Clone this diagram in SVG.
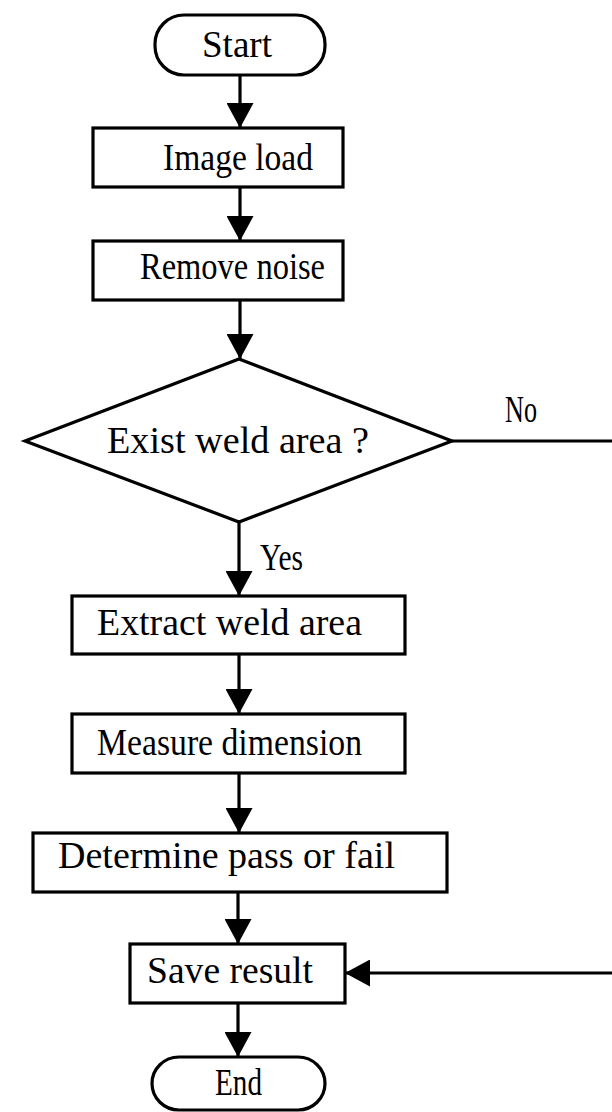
<svg xmlns="http://www.w3.org/2000/svg" width="612" height="1112" viewBox="0 0 612 1112">
<defs>
<style>
.shape{fill:#fff;stroke:#000;stroke-width:3.2}
.t{font-family:"Liberation Serif","DejaVu Serif",serif;font-size:37px;fill:#000;text-anchor:start}
.c{fill:none;stroke:#000;stroke-width:3.2}
</style>
<marker id="ah" viewBox="0 0 25 27" refX="25" refY="13.5" markerWidth="25" markerHeight="27" markerUnits="userSpaceOnUse" orient="auto">
<path d="M0,0 L25,13.5 L0,27 Z" fill="#000"/>
</marker>
</defs>
<rect width="612" height="1112" fill="#fff"/>
<g id="connectors">
<line class="c" x1="240" y1="75" x2="240" y2="128" marker-end="url(#ah)"/>
<line class="c" x1="240" y1="187" x2="240" y2="241" marker-end="url(#ah)"/>
<line class="c" x1="240" y1="300" x2="240" y2="359" marker-end="url(#ah)"/>
<line class="c" x1="239" y1="522" x2="239" y2="596" marker-end="url(#ah)"/>
<line class="c" x1="239" y1="654" x2="239" y2="714" marker-end="url(#ah)"/>
<line class="c" x1="239" y1="773" x2="239" y2="833" marker-end="url(#ah)"/>
<line class="c" x1="238" y1="892" x2="238" y2="944" marker-end="url(#ah)"/>
<line class="c" x1="238" y1="1003" x2="238" y2="1057" marker-end="url(#ah)"/>
<line class="c" x1="452" y1="441" x2="612" y2="441"/>
<line class="c" x1="612" y1="973" x2="345" y2="973" marker-end="url(#ah)"/>
<text class="t" x="505" y="422" textLength="32" lengthAdjust="spacingAndGlyphs">No</text>
<text class="t" x="260" y="570" textLength="43" lengthAdjust="spacingAndGlyphs">Yes</text>
</g>
<g id="start">
<rect class="shape" x="155" y="15" width="170" height="60" rx="29" ry="29"/>
<text class="t" x="202" y="57" textLength="70" lengthAdjust="spacingAndGlyphs">Start</text>
</g>
<g id="image-load">
<rect class="shape" x="93" y="128" width="250" height="59"/>
<text class="t" x="163" y="170" textLength="150" lengthAdjust="spacingAndGlyphs">Image load</text>
</g>
<g id="remove-noise">
<rect class="shape" x="93" y="241" width="250" height="59"/>
<text class="t" x="140" y="279" textLength="185" lengthAdjust="spacingAndGlyphs">Remove noise</text>
</g>
<g id="exist-weld-area">
<polygon class="shape" points="239,359 452,441 239,522 25,441"/>
<text class="t" x="107" y="453" textLength="262" lengthAdjust="spacingAndGlyphs">Exist weld area ?</text>
</g>
<g id="extract-weld-area">
<rect class="shape" x="72" y="596" width="333" height="58"/>
<text class="t" x="97" y="635" textLength="265" lengthAdjust="spacingAndGlyphs">Extract weld area</text>
</g>
<g id="measure-dimension">
<rect class="shape" x="72" y="714" width="333" height="59"/>
<text class="t" x="97" y="755" textLength="265" lengthAdjust="spacingAndGlyphs">Measure dimension</text>
</g>
<g id="determine-pass-or-fail">
<rect class="shape" x="33" y="833" width="414" height="59"/>
<text class="t" x="58" y="868" textLength="337" lengthAdjust="spacingAndGlyphs">Determine pass or fail</text>
</g>
<g id="save-result">
<rect class="shape" x="130" y="944" width="215" height="59"/>
<text class="t" x="147" y="983" textLength="166" lengthAdjust="spacingAndGlyphs">Save result</text>
</g>
<g id="end">
<rect class="shape" x="152" y="1057" width="173" height="53" rx="27" ry="27"/>
<text class="t" x="215" y="1095" textLength="47" lengthAdjust="spacingAndGlyphs">End</text>
</g>
</svg>
